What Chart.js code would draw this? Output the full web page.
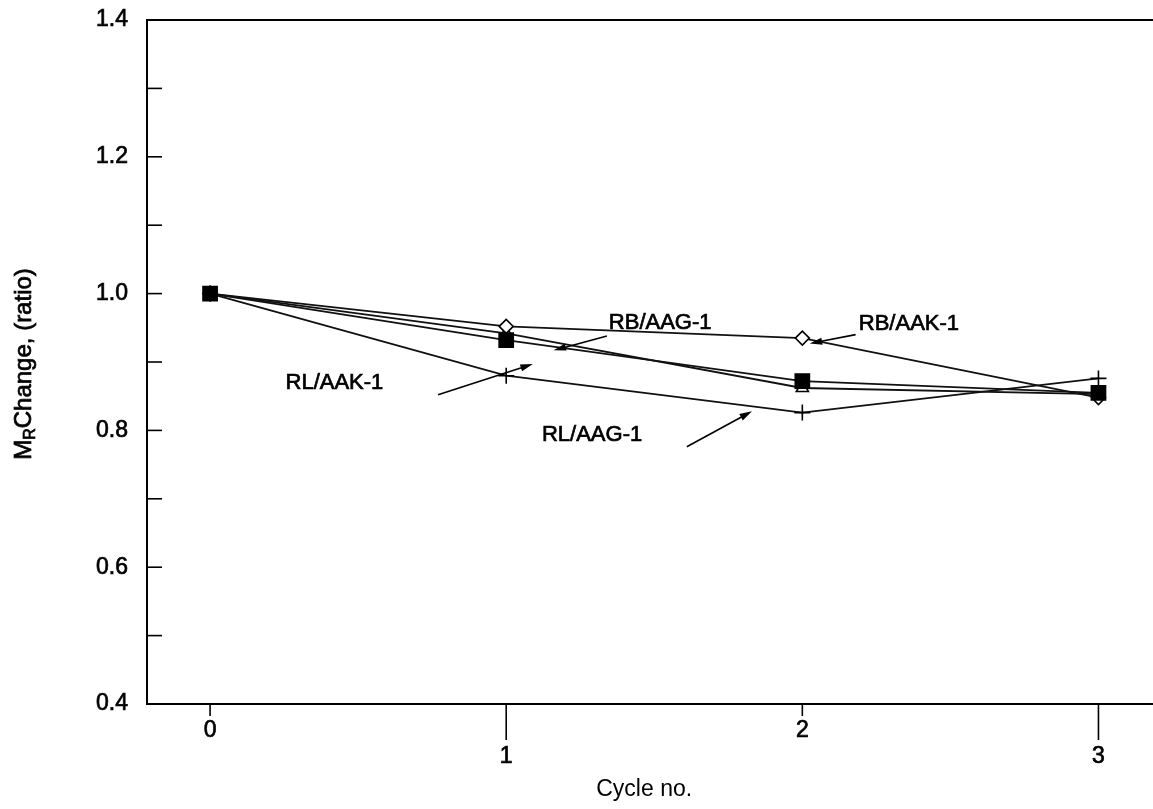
<!DOCTYPE html>
<html>
<head>
<meta charset="utf-8">
<script src="https://cdn.jsdelivr.net/npm/chart.js@4/dist/chart.umd.min.js"></script>
<style>
  html, body { margin: 0; padding: 0; background: #fff; overflow: hidden; }
</style>
</head>
<body>
<canvas id="graficoMr" width="1153" height="809"></canvas>
<script>
const ciclos = [0, 1, 2, 3];
const rbAak1 = [1.0, 0.952, 0.935, 0.848];
const rbAag1 = [1.0, 0.942, 0.862, 0.853];
const rlAak1 = [1.0, 0.932, 0.872, 0.855];
const rlAag1 = [1.0, 0.880, 0.826, 0.876];
const marcasY = [0.4, 0.5, 0.6, 0.7, 0.8, 0.9, 1.0, 1.1, 1.2, 1.3, 1.4];
const rotulosY = ["0.4", "0.6", "0.8", "1.0", "1.2", "1.4"];

const fonte = '"Liberation Sans", Arial, Helvetica, sans-serif';

// series name written on the plot, with an arrow pointing at its line (data units)
const notas = [
  { texto: "RB/AAG-1", x: 1.52, y: 0.957, de: [1.34, 0.938], para: [1.16, 0.917] },
  { texto: "RB/AAK-1", x: 2.36, y: 0.955, de: [2.18, 0.94], para: [2.025, 0.927] },
  { texto: "RL/AAK-1", x: 0.42, y: 0.870, de: [0.77, 0.852], para: [1.09, 0.897] },
  { texto: "RL/AAG-1", x: 1.29, y: 0.793, de: [1.61, 0.776], para: [1.83, 0.828] },
];

function pontos(serie) {
  return ciclos.map((c, i) => ({ x: c, y: serie[i] }));
}

function seta(ctx, x1, y1, x2, y2) {
  const ang = Math.atan2(y2 - y1, x2 - x1);
  const tam = 13, abre = 0.28;
  ctx.beginPath();
  ctx.moveTo(x1, y1);
  ctx.lineTo(x2 - Math.cos(ang) * tam * 0.8, y2 - Math.sin(ang) * tam * 0.8);
  ctx.stroke();
  ctx.beginPath();
  ctx.moveTo(x2, y2);
  ctx.lineTo(x2 - tam * Math.cos(ang - abre), y2 - tam * Math.sin(ang - abre));
  ctx.lineTo(x2 - tam * Math.cos(ang + abre), y2 - tam * Math.sin(ang + abre));
  ctx.closePath();
  ctx.fill();
}

// text slightly heavier, like the printed figure
function escreve(ctx, txt, x, y) {
  ctx.fillText(txt, x, y);
  ctx.strokeText(txt, x, y);
}

// frame, inward y ticks, staggered x ticks, y title with subscript, notes
const moldura = {
  id: "moldura",
  afterDraw(chart) {
    const { ctx, chartArea: a, scales } = chart;
    const sx = scales.x, sy = scales.y;
    ctx.save();
    ctx.strokeStyle = "#000";
    ctx.fillStyle = "#000";
    ctx.lineWidth = 2;

    // top edge and bottom axis run out to the right border of the page
    ctx.beginPath();
    ctx.moveTo(a.left, a.top);
    ctx.lineTo(chart.width, a.top);
    ctx.moveTo(a.right - 2, a.bottom);
    ctx.lineTo(chart.width, a.bottom);
    ctx.stroke();

    // y tick marks pointing into the plot
    ctx.lineWidth = 1.6;
    sy.ticks.forEach(t => {
      const py = sy.getPixelForValue(t.value);
      ctx.beginPath();
      ctx.moveTo(a.left, py);
      ctx.lineTo(a.left + 15, py);
      ctx.stroke();
    });

    // x tick marks, long ones under the odd cycles
    sx.ticks.forEach(t => {
      const px = sx.getPixelForValue(t.value);
      const comp = t.value % 2 === 1 ? 36 : 12;
      ctx.beginPath();
      ctx.moveTo(px, a.bottom);
      ctx.lineTo(px, a.bottom + comp);
      ctx.stroke();
    });

    // y title: M with subscript R
    ctx.save();
    ctx.lineWidth = 0.7;
    ctx.translate(22, (a.top + a.bottom) / 2 + 2);
    ctx.rotate(-Math.PI / 2);
    ctx.textBaseline = "alphabetic";
    ctx.textAlign = "left";
    const fGrande = "24px " + fonte, fPeq = "16px " + fonte;
    ctx.font = fGrande;
    const wM = ctx.measureText("M").width;
    const resto = "Change, (ratio)";
    const wResto = ctx.measureText(resto).width;
    ctx.font = fPeq;
    const wR = ctx.measureText("R").width;
    const total = wM + wR + wResto;
    let cx = -total / 2;
    ctx.font = fGrande;
    escreve(ctx, "M", cx, 9);
    cx += wM;
    ctx.font = fPeq;
    escreve(ctx, "R", cx, 13);
    cx += wR;
    ctx.font = fGrande;
    escreve(ctx, resto, cx, 9);
    ctx.restore();

    // series notes and arrows
    ctx.font = "22px " + fonte;
    ctx.textAlign = "center";
    ctx.textBaseline = "middle";
    notas.forEach(n => {
      ctx.lineWidth = 0.7;
      escreve(ctx, n.texto, sx.getPixelForValue(n.x), sy.getPixelForValue(n.y));
      ctx.lineWidth = 1.6;
      seta(ctx,
        sx.getPixelForValue(n.de[0]), sy.getPixelForValue(n.de[1]),
        sx.getPixelForValue(n.para[0]), sy.getPixelForValue(n.para[1]));
    });
    ctx.restore();
  }
};

const estiloLinha = { borderColor: "#111", borderWidth: 1.8, pointBorderColor: "#000", pointBorderWidth: 1.6, fill: false, tension: 0 };
const fonteTick = { family: fonte, size: 23, lineHeight: 1.15 };

new Chart(document.getElementById("graficoMr"), {
  type: "line",
  data: {
    datasets: [
      { label: "RL/AAK-1", data: pontos(rlAak1), ...estiloLinha, order: 0,
        pointStyle: "rect", pointRadius: 10, pointBackgroundColor: "#000" },
      { label: "RB/AAK-1", data: pontos(rbAak1), ...estiloLinha, order: 1,
        pointStyle: "rectRot", pointRadius: 7, pointBackgroundColor: "#fff" },
      { label: "RB/AAG-1", data: pontos(rbAag1), ...estiloLinha, order: 1,
        pointStyle: "triangle", pointRadius: 7, pointBackgroundColor: "#fff" },
      { label: "RL/AAG-1", data: pontos(rlAag1), ...estiloLinha, order: 1,
        pointStyle: "cross", pointRadius: 8, pointBackgroundColor: "#fff" },
    ]
  },
  options: {
    responsive: false,
    animation: false,
    layout: { padding: { top: 20, right: 0, left: 0, bottom: 0 } },
    plugins: { legend: { display: false }, tooltip: { enabled: false }, title: { display: false } },
    scales: {
      x: {
        type: "linear",
        min: -0.213,
        max: 3.145,
        afterBuildTicks: s => { s.ticks = ciclos.map(v => ({ value: v })); },
        afterFit: s => { s.height = 105; },
        grid: { display: false },
        border: { display: true, color: "#000", width: 2 },
        ticks: {
          color: "#000",
          padding: 5,
          maxRotation: 0,
          font: fonteTick,
          textStrokeColor: "#000",
          textStrokeWidth: 0.7,
          callback: v => (v % 2 === 1 ? ["", String(v)] : String(v)),
        },
        title: {
          display: true,
          text: "Cycle no.",
          color: "#000",
          font: { family: fonte, size: 23 },
          padding: { top: 0, bottom: 6 },
        },
      },
      y: {
        min: 0.4,
        max: 1.4,
        afterBuildTicks: s => { s.ticks = marcasY.map(v => ({ value: v })); },
        afterFit: s => { s.width = 147; s.paddingTop = 0; s.paddingBottom = 0; },
        grid: { display: false },
        border: { display: true, color: "#000", width: 2 },
        ticks: {
          color: "#000",
          padding: 11,
          font: fonteTick,
          textStrokeColor: "#000",
          textStrokeWidth: 0.7,
          callback: v => {
            const r = v.toFixed(1);
            return rotulosY.includes(r) ? r : "";
          },
        },
      },
    },
  },
  plugins: [moldura],
});
</script>
</body>
</html>
